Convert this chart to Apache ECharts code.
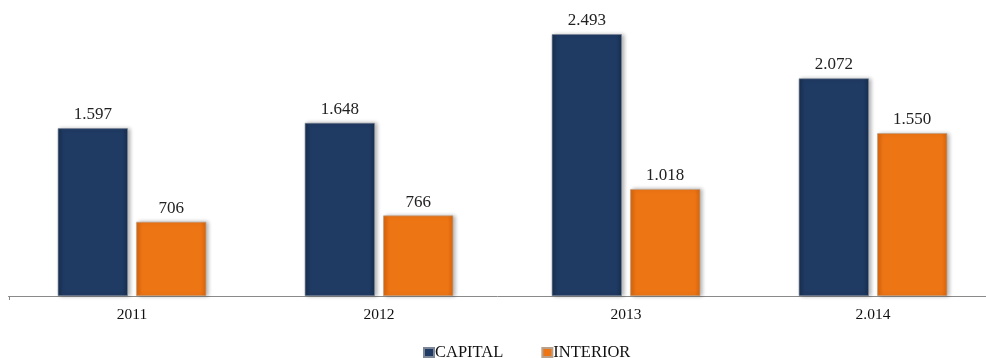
<!DOCTYPE html>
<html>
<head>
<meta charset="utf-8">
<script src="https://cdn.jsdelivr.net/npm/echarts@6/dist/echarts.min.js"></script>
<style>html,body{margin:0;padding:0;background:#fff}#c{width:986px;height:358px}</style>
</head>
<body>
<div id="c"></div>
<script>
var categories = ['2011', '2012', '2013', '2.014'];
var capital = [1597, 1648, 2493, 2072];
var interior = [706, 766, 1018, 1550];
var seriesNames = ['CAPITAL', 'INTERIOR'];

function fmt(v) {
  var s = String(v);
  return s.length > 3 ? s.slice(0, s.length - 3) + '.' + s.slice(-3) : s;
}
function grad(mid, dark) {
  return new echarts.graphic.LinearGradient(0, 0, 1, 0, [
    {offset: 0, color: dark}, {offset: 0.08, color: mid}, {offset: 0.92, color: mid}, {offset: 1, color: dark}
  ]);
}
var chart = echarts.init(document.getElementById('c'));
var font = '"Liberation Serif", "Times New Roman", serif';
var common = {
  type: 'bar', barWidth: 70, barGap: '12%',
  label: {show: true, position: 'top', distance: 5, fontFamily: font, fontSize: 17, color: '#222', formatter: function (p) { return fmt(p.value); }}
};
chart.setOption({
  animation: false,
  grid: {left: 8.5, width: 988, top: 2, bottom: 62, containLabel: false, outerBoundsMode: 'none'},
  legend: {
    top: 339, left: 418, itemWidth: 10, itemHeight: 9, itemGap: 38,
    textStyle: {fontFamily: font, fontSize: 16.5, color: '#111', padding: [0, 0, 0, -4]},
    data: [
      {name: seriesNames[0], icon: 'rect', itemStyle: {color: '#1f3a63'}},
      {name: seriesNames[1], icon: 'rect', itemStyle: {color: '#ee7514'}}
    ]
  },
  xAxis: {
    type: 'category', data: categories,
    axisLine: {lineStyle: {color: '#8a8a8a', width: 1}},
    axisTick: {show: false},
    axisLabel: {fontFamily: font, fontSize: 15.5, color: '#111', margin: 11}
  },
  yAxis: {type: 'value', min: 0, max: 2800, show: false, splitLine: {show: false}},
  series: [
    Object.assign({}, common, {
      name: seriesNames[0], data: capital,
      itemStyle: {color: grad('#1f3a63', '#17304f'), borderColor: '#7d8797', borderWidth: 0.6, shadowColor: 'rgba(0,0,0,0.3)', shadowBlur: 4, shadowOffsetX: 2}
    }),
    Object.assign({}, common, {
      name: seriesNames[1], data: interior,
      itemStyle: {color: grad('#ee7514', '#d9650c'), borderColor: '#b9a08a', borderWidth: 0.6, shadowColor: 'rgba(0,0,0,0.3)', shadowBlur: 4, shadowOffsetX: 2}
    })
  ],
  graphic: [{type: 'line', shape: {x1: 9.5, y1: 296, x2: 9.5, y2: 300}, style: {stroke: '#8a8a8a', lineWidth: 1}}]
});
</script>
</body>
</html>
